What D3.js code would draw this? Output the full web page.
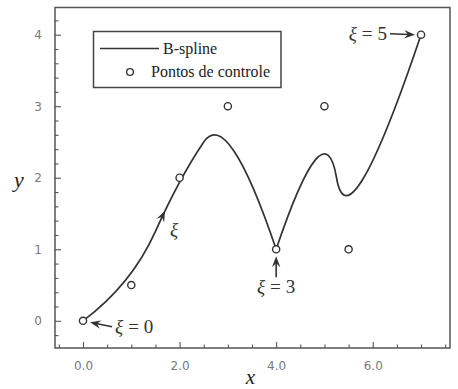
<!DOCTYPE html>
<html>
<head>
<meta charset="utf-8">
<script src="https://cdn.jsdelivr.net/npm/d3@7"></script>
<style>
  body { margin: 0; background: #fff; }
  svg { display: block; }
</style>
</head>
<body>
<svg id="chart" width="458" height="389"></svg>
<script>
// control points of the curve
var ctrlX = [0, 1, 2, 3, 4, 5, 5.5, 7];
var ctrlY = [0, 0.5, 2, 3, 1, 3, 1, 4];

// curve points at the knots xi = 0..5
var knotXi = [0, 1, 2, 3, 4, 5];
var curveX = [0, 1.5, 2.5, 4, 5.25, 7];
var curveY = [0, 1.25, 2.5, 1, 2, 4];

// control point pulling each span xi -> xi+1 (quadratic pieces)
var spanCtrl = [1, 2, 3, 5, 6];

var xTicks = [0, 2, 4, 6];
var yTicks = [0, 1, 2, 3, 4];
var legendLabels = ["B-spline", "Pontos de controle"];

var svg = d3.select("#chart");
var ink = "#333";

// plot frame (pixels)
var frameL = 55, frameR = 450, frameT = 7.5, frameB = 348;

var x = d3.scaleLinear().domain([-0.58, 7.6]).range([frameL, frameR]);
var y = d3.scaleLinear().domain([-0.38, 4.38]).range([frameB, frameT]);

// minor ticks
var xMinor = d3.range(-1, 16).map(function(i) { return i * 0.5; })
    .filter(function(v) { return xTicks.indexOf(v) < 0; });
var yMinor = d3.range(-1, 22).map(function(i) { return +(i * 0.2).toFixed(1); })
    .filter(function(v) { return yTicks.indexOf(v) < 0; });

svg.append("g")
    .attr("transform", "translate(0," + frameB + ")")
    .call(d3.axisBottom(x).tickValues(xMinor).tickSize(-3.5).tickFormat(""));

svg.append("g")
    .attr("transform", "translate(" + frameL + ",0)")
    .call(d3.axisLeft(y).tickValues(yMinor).tickSize(-3.5).tickFormat(""));

// major ticks + labels
svg.append("g")
    .attr("transform", "translate(0," + frameB + ")")
    .call(d3.axisBottom(x).tickValues(xTicks).tickSize(-6).tickPadding(13).tickFormat(d3.format(".1f")));

svg.append("g")
    .attr("transform", "translate(" + frameL + ",0)")
    .call(d3.axisLeft(y).tickValues(yTicks).tickSize(-6).tickPadding(13).tickFormat(d3.format("d")));

svg.selectAll(".tick line").attr("stroke", "#555").attr("stroke-width", 1.1);
svg.selectAll(".domain").remove();
svg.selectAll(".tick text")
    .attr("fill", "#7a7a7a")
    .attr("font-family", "'DejaVu Sans', sans-serif")
    .attr("font-size", 12);

svg.append("rect")
    .attr("x", frameL).attr("y", frameT)
    .attr("width", frameR - frameL).attr("height", frameB - frameT)
    .attr("fill", "none").attr("stroke", "#555").attr("stroke-width", 1.5);

// axis titles
svg.append("text")
    .attr("x", (frameL + frameR) / 2 - 2).attr("y", 384)
    .attr("text-anchor", "middle")
    .attr("font-family", "'Liberation Serif', serif")
    .attr("font-style", "italic").attr("font-size", 21)
    .attr("fill", "#222").text("x");

svg.append("text")
    .attr("x", 19).attr("y", 187)
    .attr("text-anchor", "middle")
    .attr("font-family", "'Liberation Serif', serif")
    .attr("font-style", "italic").attr("font-size", 22)
    .attr("fill", "#222").text("y");

// B-spline curve, one quadratic piece per knot span
var p = d3.path();
p.moveTo(x(curveX[0]), y(curveY[0]));
spanCtrl.forEach(function(c, i) {
    p.quadraticCurveTo(x(ctrlX[c]), y(ctrlY[c]), x(curveX[i + 1]), y(curveY[i + 1]));
});
svg.append("path")
    .attr("d", p.toString())
    .attr("fill", "none")
    .attr("stroke", ink)
    .attr("stroke-width", 1.7);

// control points
svg.append("g").selectAll("circle")
    .data(ctrlX)
    .enter().append("circle")
    .attr("cx", function(d) { return x(d); })
    .attr("cy", function(d, i) { return y(ctrlY[i]); })
    .attr("r", 3.6)
    .attr("fill", "#fff")
    .attr("stroke", ink)
    .attr("stroke-width", 1.4);

// arrow head helper
function arrowHead(g, px, py, ang) {
    g.append("path")
        .attr("d", "M0,0 L-11,-4.2 L-7,0 L-11,4.2 Z")
        .attr("transform", "translate(" + px + "," + py + ") rotate(" + ang + ")")
        .attr("fill", ink);
}

// xi annotations
var notes = [
    {k: 0, tail: [29, 6], tip: [7, 1.5], tx: 32, ty: 12, anchor: "start"},
    {k: 3, tail: [0, 28], tip: [0, 7], tx: 0, ty: 43.5, anchor: "middle"},
    {k: 5, tail: [-31, -1], tip: [-6, 0], tx: -34, ty: 5.5, anchor: "end"}
];

var ann = svg.append("g");
notes.forEach(function(n) {
    var cx = x(curveX[n.k]), cy = y(curveY[n.k]);
    var x1 = cx + n.tail[0], y1 = cy + n.tail[1];
    var x2 = cx + n.tip[0], y2 = cy + n.tip[1];
    var a = Math.atan2(y2 - y1, x2 - x1);
    ann.append("line")
        .attr("x1", x1).attr("y1", y1)
        .attr("x2", x2 - 6 * Math.cos(a))
        .attr("y2", y2 - 6 * Math.sin(a))
        .attr("stroke", ink).attr("stroke-width", 1.6);
    arrowHead(ann, x2, y2, a * 180 / Math.PI);
    var t = ann.append("text")
        .attr("x", cx + n.tx).attr("y", cy + n.ty)
        .attr("text-anchor", n.anchor)
        .attr("font-family", "'Liberation Serif', serif")
        .attr("font-size", 19).attr("fill", ink);
    t.append("tspan").attr("font-style", "italic").text("\u03be");
    t.append("tspan").attr("dx", 5).text("=");
    t.append("tspan").attr("dx", 5).text(knotXi[n.k]);
});

// direction arrow on the curve
var dirPt = {x: 1.7, y: 1.54, dx: 1.0, dy: 1.4};
var dAng = Math.atan2(y(dirPt.y + dirPt.dy) - y(dirPt.y), x(dirPt.x + dirPt.dx) - x(dirPt.x)) * 180 / Math.PI;
arrowHead(ann, x(dirPt.x), y(dirPt.y), dAng);
ann.append("text")
    .attr("x", x(dirPt.x) + 5).attr("y", y(dirPt.y) + 25)
    .attr("font-family", "'Liberation Serif', serif")
    .attr("font-style", "italic")
    .attr("font-size", 19).attr("fill", ink)
    .text("\u03be");

// legend
var lg = svg.append("g");
lg.append("rect")
    .attr("x", 93.5).attr("y", 31.5).attr("width", 187.5).attr("height", 56)
    .attr("fill", "#fff").attr("stroke", "#444").attr("stroke-width", 1.5);
lg.append("line")
    .attr("x1", 100).attr("x2", 159).attr("y1", 48.5).attr("y2", 48.5)
    .attr("stroke", ink).attr("stroke-width", 1.7);
lg.append("circle")
    .attr("cx", 130).attr("cy", 72).attr("r", 3.4)
    .attr("fill", "#fff").attr("stroke", ink).attr("stroke-width", 1.4);
lg.selectAll("text")
    .data(legendLabels)
    .enter().append("text")
    .attr("x", function(d, i) { return i === 0 ? 163 : 151; })
    .attr("y", function(d, i) { return i === 0 ? 53.5 : 77; })
    .attr("font-family", "'Liberation Serif', serif")
    .attr("font-size", 16)
    .attr("fill", "#222")
    .text(function(d) { return d; });
</script>
</body>
</html>
